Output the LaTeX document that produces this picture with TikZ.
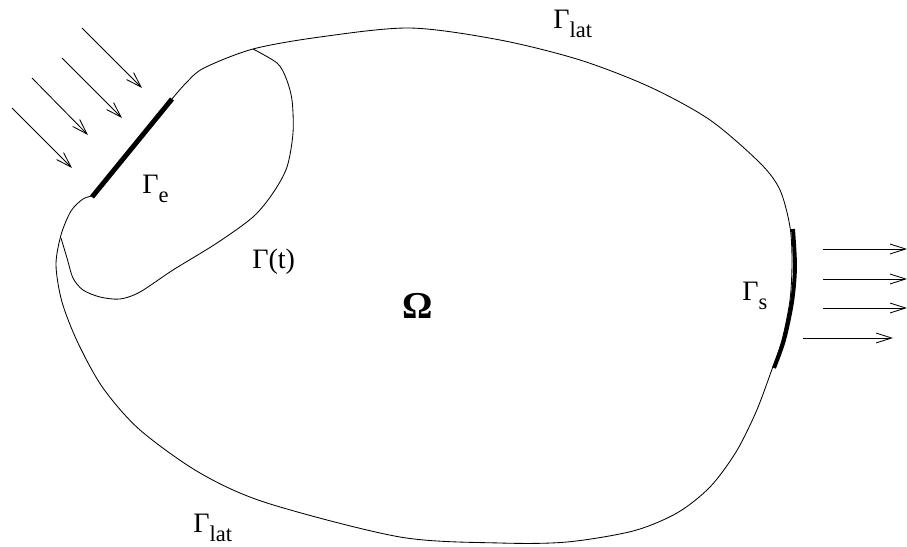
\documentclass[tikz,border=0pt]{standalone}
\usepackage{fontspec}
\setmainfont{Liberation Serif}
\usetikzlibrary{arrows.meta}

\newcommand{\bnd}[1]{Γ\raisebox{-6.4pt}{\fontsize{16}{16}\selectfont #1}}

\begin{document}
\begin{tikzpicture}[x=0.025cm, y=-0.025cm,
    every node/.style={font=\fontsize{20}{22}\selectfont, inner sep=0pt},
    wall/.style={line width=0.6pt},
    inlet/.style={line width=3.5pt},
    flux/.style={line width=0.6pt, -{Straight Barb[length=11pt,width=7pt]}}]
    \useasboundingbox (0,0) rectangle (907,546);

    % Outer boundary
    \draw[wall] plot[smooth] coordinates {(172,99) (186,83) (204,68) (253,49)
        (320,37) (410,28) (500,40) (580,60) (650,87) (710,120)
        (760,163) (780,190) (790,227) (792,262) (790,300) (782,340) (771,372)
        (756,412) (736,452) (710,487) (677,513) (633,531) (567,542) (500,543)
        (400,537) (267,503) (200,473) (140,430) (103,388) (78,343) (62,302)
        (56,265) (61,235) (71,211) (83,199) (92,196)};

    % Entry and exit parts
    \draw[inlet] (92,197) -- (172,99);
    \draw[line width=2.8pt] plot[smooth] coordinates {(793,229) (795,267)
        (792,302) (784,340) (774,368)};

    % Moving front
    \draw[wall] plot[smooth] coordinates {(253,49) (277,63) (286,78) (292,100)
        (293,133) (287,167) (273,193) (253,217) (217,243) (173,270) (140,292)
        (120,299) (100,297) (83,290) (73,278) (67,258) (61,238)};

    % Incoming flow
    \draw[flux] (82,28) -- (142,88);
    \draw[flux] (62,58) -- (122,118);
    \draw[flux] (32,78) -- (88,135);
    \draw[flux] (12,108) -- (72,168);

    % Outgoing flow
    \draw[flux] (823,249) -- (907,249);
    \draw[flux] (823,279) -- (907,279);
    \draw[flux] (823,308) -- (907,308);
    \draw[flux] (803,338) -- (893,338);

    % Labels
    \node[anchor=base west] (latTop) at (553,28) {\bnd{lat}};
    \node[anchor=base west] (latBot) at (193,532) {\bnd{lat}};
    \node[anchor=base west] (entry) at (142,193) {\bnd{e}};
    \node[anchor=base west] (exit) at (742,300) {\bnd{s}};
    \node[anchor=base west] (front) at (252,268) {Γ(t)};
    \node[anchor=base west, font=\fontsize{27}{29}\selectfont\bfseries] (dom) at (402,318) {Ω};
\end{tikzpicture}
\end{document}
